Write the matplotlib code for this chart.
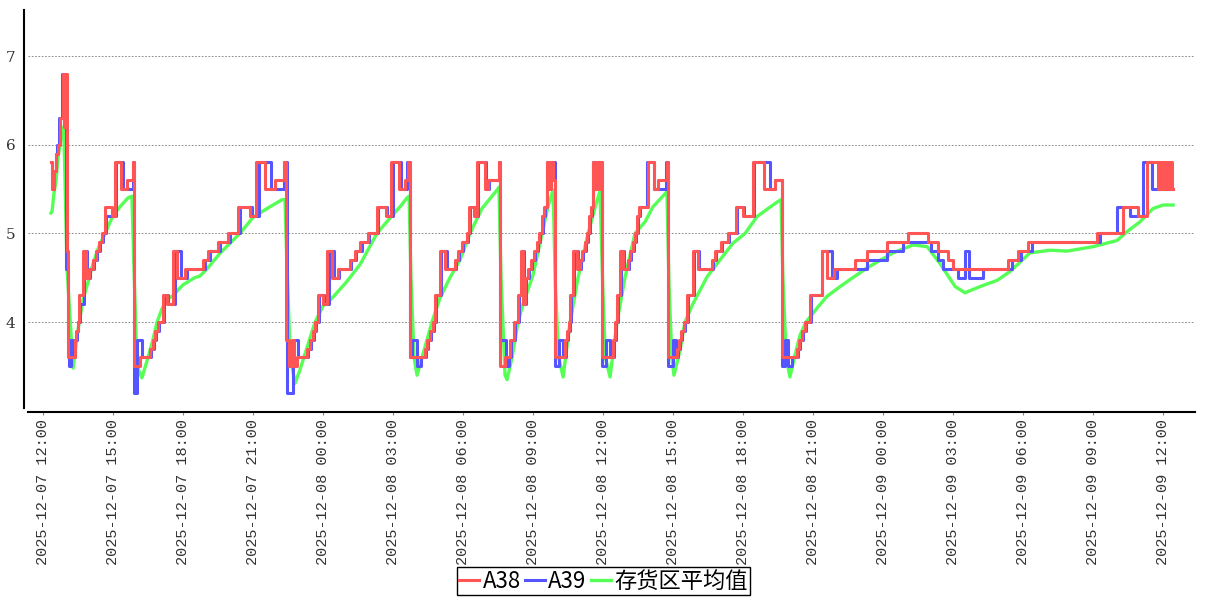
import matplotlib
matplotlib.use("Agg")
import matplotlib.pyplot as plt
import matplotlib.dates as mdates
import pandas as pd

BASE = pd.Timestamp("2025-12-07 12:00")

# A38: step change points (hours after 2025-12-07 12:00, value)
A38_h = [0.34, 0.40, 0.47, 0.56, 0.64, 0.73, 0.84, 0.90, 0.95, 1.03, 1.07,
         1.35, 1.42, 1.48, 1.56, 1.71, 1.84, 1.97, 2.14, 2.27, 2.40, 2.52, 2.65, 2.96, 3.09, 3.35, 3.60, 3.84,
         3.90, 4.16, 4.59, 4.71, 4.80, 4.93, 5.14, 5.31, 5.57, 5.74, 6.09, 6.86, 7.07, 7.50, 7.93, 8.36, 8.87,
         9.13, 9.51, 9.94, 10.33,
         10.41, 10.54, 10.67, 10.76, 10.89, 11.31, 11.44, 11.57, 11.66, 11.79, 12.00, 12.17, 12.39, 12.64,
         13.16, 13.37, 13.59, 13.93, 14.31, 14.70, 14.91, 15.26, 15.51, 15.64,
         15.73, 16.37, 16.46, 16.59, 16.71, 16.80, 17.01, 17.23, 17.66, 17.79, 17.96, 18.17, 18.26, 18.47,
         18.60, 18.94, 19.07, 19.54,
         19.59, 19.80, 20.01, 20.19, 20.36, 20.49, 20.57, 20.66, 20.79, 20.91, 21.04, 21.17, 21.26, 21.39,
         21.47, 21.60, 21.69, 21.77, 21.86,
         21.94, 22.37, 22.46, 22.54, 22.59, 22.71, 22.89, 23.01, 23.10, 23.23, 23.31, 23.40, 23.49, 23.57,
         23.66, 23.74, 23.83, 23.91,
         23.96, 24.43, 24.51, 24.60, 24.73, 24.86, 25.07, 25.16, 25.29, 25.37, 25.46, 25.54, 25.93, 26.19,
         26.36, 26.74,
         26.79, 27.17, 27.26, 27.34, 27.47, 27.60, 27.86, 28.07, 28.67, 28.80, 29.06, 29.36, 29.70, 30.00,
         30.43, 30.90, 31.37,
         31.67, 32.31, 32.40, 32.53, 32.66, 32.87, 33.39, 33.60, 33.90, 34.80, 35.31, 36.17, 37.07, 37.93,
         38.36, 38.79, 39.00, 41.36, 41.79, 42.21, 45.17, 46.29, 46.93, 47.31,
         47.79, 47.84, 47.89, 47.94, 47.99, 48.04, 48.09, 48.14, 48.19, 48.24, 48.29, 48.34, 48.38, 48.43]
A38_v = [5.8, 5.5, 5.7, 5.9, 6.0, 6.3, 6.8, 6.2, 6.8, 4.8, 3.6,
         3.8, 3.9, 4.0, 4.3, 4.8, 4.5, 4.6, 4.7, 4.8, 4.9, 5.0, 5.3, 5.2, 5.8, 5.5, 5.6, 5.8,
         3.5, 3.6, 3.7, 3.8, 3.9, 4.0, 4.3, 4.2, 4.8, 4.5, 4.6, 4.7, 4.8, 4.9, 5.0, 5.3, 5.2,
         5.8, 5.5, 5.6, 5.8,
         3.8, 3.5, 3.8, 3.5, 3.6, 3.7, 3.8, 3.9, 4.0, 4.3, 4.2, 4.8, 4.5, 4.6,
         4.7, 4.8, 4.9, 5.0, 5.3, 5.2, 5.8, 5.5, 5.6, 5.8,
         3.6, 3.7, 3.8, 3.9, 4.0, 4.3, 4.8, 4.6, 4.7, 4.8, 4.9, 5.0, 5.3, 5.2,
         5.8, 5.5, 5.6, 5.8,
         3.5, 3.6, 3.8, 4.0, 4.3, 4.8, 4.2, 4.5, 4.6, 4.7, 4.8, 4.9, 5.0, 5.2,
         5.3, 5.8, 5.5, 5.8, 5.6,
         3.6, 3.8, 3.9, 4.0, 4.3, 4.8, 4.6, 4.7, 4.8, 4.9, 5.0, 5.2, 5.3, 5.8,
         5.5, 5.8, 5.5, 5.8,
         3.6, 3.8, 4.0, 4.3, 4.8, 4.6, 4.7, 4.8, 4.9, 5.0, 5.2, 5.3, 5.8, 5.5,
         5.6, 5.8,
         3.6, 3.7, 3.8, 3.9, 4.0, 4.3, 4.8, 4.6, 4.7, 4.8, 4.9, 5.0, 5.3, 5.2,
         5.8, 5.5, 5.6,
         3.6, 3.7, 3.8, 3.9, 4.0, 4.3, 4.8, 4.5, 4.6, 4.7, 4.8, 4.9, 5.0, 4.9,
         4.8, 4.7, 4.6, 4.7, 4.8, 4.9, 5.0, 5.3, 5.2, 5.8,
         5.5, 5.8, 5.5, 5.8, 5.5, 5.8, 5.5, 5.8, 5.5, 5.8, 5.5, 5.8, 5.5, 5.5]

# A39: step change points
A39_h = [0.34, 0.40, 0.49, 0.56, 0.62, 0.69, 0.81, 0.99, 1.05, 1.12, 1.20, 1.29,
         1.39, 1.46, 1.52, 1.60, 1.75, 1.90, 2.03, 2.20, 2.33, 2.46, 2.59, 2.72, 3.13, 3.43, 3.84,
         3.92, 4.01, 4.24, 4.63, 4.76, 4.86, 4.99, 5.19, 5.36, 5.64, 5.90, 6.16, 6.93, 7.14, 7.57, 8.00,
         8.43, 8.95, 9.26, 9.77, 10.33,
         10.45, 10.72, 10.94, 11.36, 11.49, 11.62, 11.71, 11.84, 12.04, 12.24, 12.47, 12.70, 13.22, 13.43,
         13.65, 13.99, 14.37, 14.76, 15.00, 15.36, 15.62,
         15.73, 15.80, 16.03, 16.20, 16.42, 16.51, 16.64, 16.76, 16.85, 17.06, 17.30, 17.71, 17.84, 18.01,
         18.22, 18.31, 18.53, 18.66, 19.00, 19.11, 19.54,
         19.59, 19.85, 19.98, 20.06, 20.24, 20.41, 20.53, 20.62, 20.71, 20.84, 20.96, 21.09, 21.21, 21.31,
         21.44, 21.52, 21.58,
         21.94, 22.13, 22.30, 22.42, 22.50, 22.58, 22.64, 22.76, 22.93, 23.06, 23.15, 23.27, 23.36, 23.45,
         23.53, 23.55,
         23.96, 24.14, 24.30, 24.48, 24.56, 24.65, 24.78, 24.91, 25.12, 25.21, 25.33, 25.42, 25.50, 25.59,
         25.89, 26.19, 26.72,
         26.79, 27.00, 27.13, 27.22, 27.30, 27.39, 27.52, 27.65, 27.91, 28.12, 28.72, 28.85, 29.11, 29.41,
         29.75, 30.05, 30.47, 31.16, 31.37,
         31.67, 31.80, 31.93, 32.10, 32.36, 32.44, 32.57, 32.70, 32.91, 33.39, 33.82, 34.03, 35.31, 36.17,
         36.86, 38.06, 38.36, 38.57, 39.21, 39.51, 39.69, 40.29, 41.53, 41.91, 42.39, 45.30, 46.03, 46.59,
         47.14, 47.53, 48.43]
A39_v = [5.8, 5.5, 5.7, 5.9, 6.0, 6.3, 6.8, 4.6, 3.8, 3.5, 3.8, 3.6,
         3.8, 3.9, 4.0, 4.2, 4.8, 4.5, 4.6, 4.7, 4.8, 4.9, 5.0, 5.2, 5.8, 5.5, 5.8,
         3.2, 3.8, 3.6, 3.7, 3.8, 3.9, 4.0, 4.3, 4.2, 4.8, 4.5, 4.6, 4.7, 4.8, 4.9, 5.0,
         5.3, 5.2, 5.8, 5.5, 5.8,
         3.2, 3.8, 3.6, 3.7, 3.8, 3.9, 4.0, 4.3, 4.2, 4.8, 4.5, 4.6, 4.7, 4.8,
         4.9, 5.0, 5.3, 5.2, 5.8, 5.5, 5.8,
         3.6, 3.8, 3.5, 3.6, 3.7, 3.8, 3.9, 4.0, 4.3, 4.8, 4.6, 4.7, 4.8, 4.9,
         5.0, 5.3, 5.2, 5.8, 5.5, 5.6, 5.8,
         3.8, 3.5, 3.6, 3.8, 4.0, 4.3, 4.8, 4.2, 4.5, 4.6, 4.7, 4.8, 4.9, 5.0,
         5.2, 5.3, 5.8,
         3.5, 3.8, 3.6, 3.8, 3.9, 4.0, 4.3, 4.8, 4.6, 4.7, 4.8, 4.9, 5.0, 5.2,
         5.3, 5.8,
         3.5, 3.8, 3.6, 3.8, 4.0, 4.3, 4.8, 4.6, 4.7, 4.8, 4.9, 5.0, 5.2, 5.3,
         5.8, 5.5, 5.8,
         3.5, 3.8, 3.6, 3.7, 3.8, 3.9, 4.0, 4.3, 4.8, 4.6, 4.7, 4.8, 4.9, 5.0,
         5.3, 5.2, 5.8, 5.5, 5.6,
         3.5, 3.8, 3.5, 3.6, 3.7, 3.8, 3.9, 4.0, 4.3, 4.8, 4.5, 4.6, 4.7, 4.8,
         4.9, 4.8, 4.7, 4.6, 4.5, 4.8, 4.5, 4.6, 4.7, 4.8, 4.9, 5.0, 5.3, 5.2,
         5.8, 5.5, 5.5]

# storage-area average (polyline vertices)
AVG_h = [0.34, 0.39, 0.47, 0.56, 0.64, 0.73, 0.81, 0.86, 0.90, 1.03, 1.29,
         1.46, 1.59, 1.71, 1.93, 2.10, 2.35, 2.66, 3.00, 3.30, 3.64, 3.81, 3.90, 4.03,
         4.24, 4.50, 4.71, 4.89, 5.10, 5.31, 5.57, 6.00, 6.50, 6.73, 7.03, 7.60, 8.44, 9.00, 9.60, 10.24,
         10.37, 10.46, 10.60,
         10.80, 11.00, 11.30, 11.66, 12.00, 12.39, 13.00, 13.59, 14.31, 14.96, 15.30, 15.60, 15.69, 15.77,
         15.90,
         16.03, 16.37, 16.67, 17.01, 17.44, 17.87, 18.30, 18.81, 19.46, 19.54, 19.63, 19.80,
         19.89, 20.10, 20.36, 20.57, 21.00, 21.39, 21.64, 21.86, 21.96, 22.10,
         22.29, 22.59, 22.93, 23.36, 23.70, 23.87, 23.99, 24.10,
         24.30, 24.60, 24.94, 25.37, 25.80, 26.14, 26.74, 26.83, 26.95,
         27.04, 27.30, 27.51, 27.86, 28.46, 29.01, 29.57, 30.09, 30.60, 31.07, 31.50, 31.63, 31.71, 31.85,
         32.01, 32.20, 32.44, 32.70, 33.21, 33.60, 34.16, 34.70, 35.31, 36.43, 37.29, 37.89, 38.44, 39.09,
         39.51, 40.16, 40.89, 41.44, 42.30, 43.16, 43.89, 45.00, 46.03, 46.46, 47.01, 47.57, 48.00, 48.43]
AVG_v = [5.23, 5.25, 5.45, 5.60, 5.85, 6.00, 6.15, 6.20, 6.10, 4.60, 3.48,
         3.85, 4.05, 4.25, 4.45, 4.62, 4.82, 5.00, 5.20, 5.30, 5.40, 5.42, 4.60, 3.50,
         3.37, 3.60, 3.80, 4.00, 4.15, 4.25, 4.30, 4.42, 4.50, 4.52, 4.60, 4.78, 5.00, 5.18, 5.28, 5.38,
         5.38, 4.60, 3.60,
         3.31, 3.45, 3.70, 4.00, 4.18, 4.27, 4.45, 4.65, 5.00, 5.20, 5.30, 5.40, 5.42, 4.50,
         3.60,
         3.40, 3.72, 4.00, 4.27, 4.50, 4.70, 5.00, 5.28, 5.49, 5.52, 4.50, 3.40,
         3.35, 3.60, 4.00, 4.20, 4.53, 5.00, 5.30, 5.49, 4.40, 3.60,
         3.38, 4.00, 4.50, 5.00, 5.33, 5.48, 4.40, 3.60,
         3.38, 4.00, 4.50, 5.00, 5.13, 5.30, 5.47, 4.40, 3.60,
         3.40, 3.68, 4.00, 4.21, 4.51, 4.70, 4.89, 5.00, 5.19, 5.28, 5.36, 5.38, 4.50, 3.60,
         3.38, 3.60, 3.85, 4.00, 4.17, 4.29, 4.40, 4.50, 4.61, 4.78, 4.87, 4.85, 4.66, 4.40,
         4.33, 4.40, 4.47, 4.57, 4.78, 4.81, 4.80, 4.85, 4.92, 5.02, 5.13, 5.28, 5.32, 5.32]

SERIES = ["A38", "A39", "存货区平均值"]
COLORS = ["#FF5555", "#5555FF", "#55FF55"]

XTICKS = pd.date_range("2025-12-07 12:00", "2025-12-09 12:00", freq="3h")


def to_time(hours):
    return BASE + pd.to_timedelta(hours, unit="h")


fig = plt.figure(figsize=(12.07, 6.0), dpi=100)
ax = fig.add_axes([28 / 1207, 1 - 408 / 600, (1195 - 28) / 1207, (408 - 10) / 600])

ax.plot(to_time(AVG_h), AVG_v, color=COLORS[2], lw=2.4, zorder=2, label=SERIES[2],
        solid_joinstyle="round")
ax.step(to_time(A39_h), A39_v, where="post", color=COLORS[1], lw=2.2, zorder=3, label=SERIES[1])
ax.step(to_time(A38_h), A38_v, where="post", color=COLORS[0], lw=2.2, zorder=4, label=SERIES[0])

ax.set_ylim(3.03, 7.52)
ax.set_xlim(to_time(-0.643), to_time(49.37))
ax.set_yticks([4, 5, 6, 7])
ax.grid(axis="y", color="#777777", lw=0.6, ls=(0, (2, 2)))
ax.set_xticks(XTICKS)
ax.xaxis.set_major_formatter(mdates.DateFormatter("%Y-%m-%d %H:%M"))

for s in ["top", "right"]:
    ax.spines[s].set_visible(False)
ax.spines["left"].set_position(("outward", 3))
ax.spines["bottom"].set_position(("outward", 3))
ax.spines["left"].set_linewidth(1.5)
ax.spines["bottom"].set_linewidth(1.5)

ax.tick_params(axis="y", length=0, pad=6, labelsize=11, labelcolor="#333333")
ax.tick_params(axis="x", length=2, color="#888888", pad=3, labelsize=11,
               labelcolor="#333333", rotation=90)
for lab in ax.get_yticklabels():
    lab.set_family("DejaVu Serif")
for lab in ax.get_xticklabels():
    lab.set_family("Liberation Mono")

handles, labels = ax.get_legend_handles_labels()
order = [2, 1, 0]
leg = fig.legend([handles[i] for i in order], [labels[i] for i in order],
                 loc="center", bbox_to_anchor=(0.5, 1 - 581 / 600), ncol=3,
                 frameon=True, fancybox=False, edgecolor="black", framealpha=1,
                 handlelength=0.9, handletextpad=0.15, columnspacing=0.2,
                 borderpad=0.1, borderaxespad=0,
                 prop={"family": ["Noto Sans CJK SC", "DejaVu Sans"], "size": 16})
leg.get_frame().set_linewidth(1.0)

fig.savefig("out.png", dpi=100)
